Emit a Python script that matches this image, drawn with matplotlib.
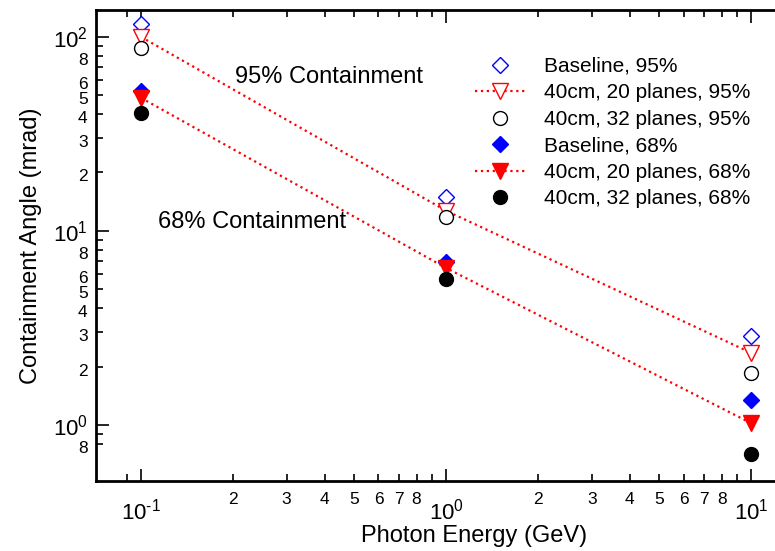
import numpy as np
import matplotlib
matplotlib.use('Agg')
import matplotlib.pyplot as plt
import matplotlib.transforms as mtrans
from matplotlib.ticker import FixedLocator, FuncFormatter

plt.rcParams['font.family'] = ['Liberation Sans', 'DejaVu Sans']
plt.rcParams['mathtext.fontset'] = 'custom'
plt.rcParams['mathtext.rm'] = 'Liberation Sans'
plt.rcParams['mathtext.it'] = 'Liberation Sans'
plt.rcParams['mathtext.bf'] = 'Liberation Sans'

# photon energies (GeV)
energy = [0.1, 1.0, 10.0]

# containment angles (mrad)
base_95 = [116.7, 14.96, 2.87]
p20_95 = [100.0, 12.7, 2.35]
p32_95 = [87.7, 11.8, 1.85]
base_68 = [52.7, 6.92, 1.35]
p20_68 = [48.5, 6.44, 1.02]
p32_68 = [40.6, 5.66, 0.709]

fig = plt.figure(figsize=(7.75, 5.51), dpi=100)
# plot frame runs past the right edge of the picture (cropped original)
ax = fig.add_axes([0.1239, 0.127, 0.9755, 0.855])

ms = 10
ax.plot(energy, base_95, ls='none', marker='D', ms=8.5, mfc='white', mec='blue', mew=1.0, label='Baseline, 95%')
ax.plot(energy, p20_95, ls=':', lw=1.6, color='red', marker='v', ms=11, mfc='white', mec='red', mew=1.0, label='40cm, 20 planes, 95%')
ax.plot(energy, p32_95, ls='none', marker='o', ms=ms, mfc='white', mec='black', mew=1.0, label='40cm, 32 planes, 95%')
ax.plot(energy, base_68, ls='none', marker='D', ms=8.5, mfc='blue', mec='blue', label='Baseline, 68%')
ax.plot(energy, p20_68, ls=':', lw=1.6, color='red', marker='v', ms=11, mfc='red', mec='red', label='40cm, 20 planes, 68%')
ax.plot(energy, p32_68, ls='none', marker='o', ms=ms, mfc='black', mec='black', label='40cm, 32 planes, 68%')

ax.set_xscale('log')
ax.set_yscale('log')
ax.set_xlim(0.0712, 21.4)
ax.set_ylim(0.514, 137.7)

ax.text(0.203, 62.2, '95% Containment', fontsize=17, va='center', ha='left')
ax.text(0.1137, 11.1, '68% Containment', fontsize=17, va='center', ha='left')

# tick positions (minor ticks only inside the labelled decades)
subs = np.arange(2, 10)
xminor = [0.09] + list(subs * 0.1) + list(subs * 1.0)
yminor = [0.8, 0.9] + list(subs * 1.0) + list(subs * 10.0)

def minor_fmt(keep):
    def f(v, pos):
        m = int(round(v / 10 ** np.floor(np.log10(v) + 1e-9)))
        return str(m) if m in keep else ''
    return FuncFormatter(f)

def major_fmt(v, pos):
    e = int(round(np.log10(v)))
    return r'$10^{%s}$' % str(e).replace('-', '\u2010')

ax.xaxis.set_major_locator(FixedLocator([0.1, 1.0, 10.0]))
ax.yaxis.set_major_locator(FixedLocator([1.0, 10.0, 100.0]))
ax.xaxis.set_major_formatter(FuncFormatter(major_fmt))
ax.yaxis.set_major_formatter(FuncFormatter(major_fmt))
ax.xaxis.set_minor_locator(FixedLocator(xminor))
ax.yaxis.set_minor_locator(FixedLocator(yminor))
ax.xaxis.set_minor_formatter(FuncFormatter(lambda v, p: '' if v < 0.1 else minor_fmt({2, 3, 4, 5, 6, 7, 8})(v, p)))
ax.yaxis.set_minor_formatter(FuncFormatter(lambda v, p: ('8' if abs(v - 0.8) < 1e-6 else '') if v < 1 else minor_fmt({2, 3, 4, 5, 6, 8})(v, p)))

ax.tick_params(which='both', direction='in', top=True, right=True, width=1.2)
ax.tick_params(which='major', length=9, labelsize=16)
ax.tick_params(which='minor', length=5, labelsize=12.5)
ax.tick_params(axis='x', which='major', pad=13)
ax.tick_params(axis='x', which='minor', pad=8)
ax.tick_params(axis='y', which='minor', pad=6)
ax.tick_params(axis='y', which='major', pad=6)

for s in ax.spines.values():
    s.set_linewidth(2)

ax.set_xlabel('Photon Energy (GeV)', fontsize=17, labelpad=0)
ax.set_ylabel('Containment Angle (mrad)', fontsize=17, labelpad=8)

ax.legend(loc='upper right', bbox_to_anchor=(0.877, 0.918), frameon=False, fontsize=15,
          handlelength=2.4, handletextpad=0.95, labelspacing=0.36, borderaxespad=0)

# nudge the "8" labels a little below the decade labels
fig.canvas.draw()
shift = mtrans.ScaledTranslation(0, -3 / 100, fig.dpi_scale_trans)
for t in ax.yaxis.get_minor_ticks():
    t.label1.set_transform(t.label1.get_transform() + shift)

fig.savefig('out.png', dpi=100)
